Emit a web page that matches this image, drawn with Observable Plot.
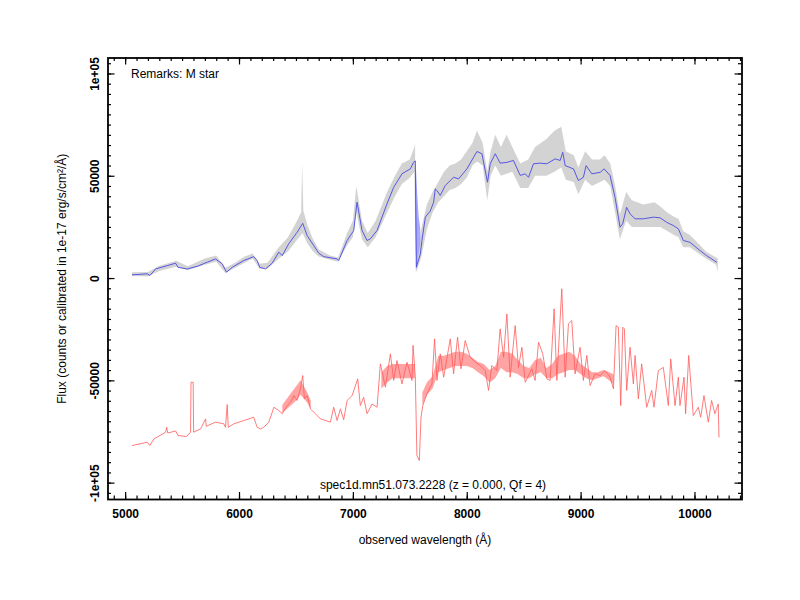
<!DOCTYPE html>
<html>
<head>
<meta charset="utf-8">
<script src="https://cdn.jsdelivr.net/npm/d3@7"></script>
<script src="https://cdn.jsdelivr.net/npm/@observablehq/plot@0.6"></script>
<style>
  html, body { margin: 0; padding: 0; background: #fff; }
  #chart svg { display: block; }
</style>
</head>
<body>
<div id="chart"></div>
<script>
// ---- data ----
const blueLam = [5059,5190,5213,5263,5365,5439,5459,5541,5629,5717,5789,5848,5886,5936,6038,6125,6155,6178,6228,6287,6345,6375,6432,6506,6555,6594,6652,6696,6740,6857,6871,6945,7003,7032,7076,7120,7149,7208,7295,7354,7427,7500,7529,7544,7553,7588,7602,7632,7675,7705,7719,7734,7763,7807,7822,7880,7924,7997,8085,8129,8178,8202,8246,8289,8348,8406,8465,8509,8538,8582,8640,8699,8772,8816,8839,8860,8933,8976,9020,9044,9094,9167,9202,9254,9298,9342,9365,9400,9430,9474,9547,9635,9693,9751,9810,9854,9898,9956,10044,10102,10190];
const blueFlux = [1800,2300,1500,4700,6300,7500,5500,4700,6000,8000,9600,7200,3100,5500,8800,10700,8800,5500,4700,7500,12900,11200,17000,22600,27000,21000,16100,12400,10700,9600,8800,18600,23500,37300,23500,18600,19400,23500,36500,44600,51200,53600,56800,57500,5500,12000,18600,30000,33000,37300,43800,43000,40600,45500,46300,49500,48700,53600,62100,61000,47100,56100,61000,56400,56800,57700,50400,51200,49500,56100,56400,56100,58500,57700,61700,55200,53600,47900,49500,55200,51200,51900,53600,50400,39700,25100,26700,34800,31600,29200,29200,30000,29700,27500,25900,24300,18600,17700,13700,11200,8000];

const greyLam = [5060,5200,5300,5450,5550,5700,5800,5880,5950,6050,6120,6180,6250,6350,6430,6500,6545,6555,6565,6600,6650,6700,6800,6870,6950,7000,7030,7080,7130,7200,7300,7370,7430,7500,7540,7546,7553,7600,7650,7700,7750,7800,7850,7900,7950,8000,8050,8090,8140,8180,8210,8250,8300,8350,8400,8470,8540,8600,8650,8700,8770,8830,8870,8940,8980,9040,9100,9170,9210,9260,9300,9345,9400,9450,9550,9650,9700,9760,9820,9860,9900,9960,10050,10100,10190,10205];
const greyLo = [1000,800,3500,5500,3800,6500,8000,2500,4500,7500,9500,4500,4500,9500,13000,18000,21000,22000,21000,17000,13000,10500,9000,8000,16000,20000,32000,19000,15000,20000,32000,40000,46000,49000,52000,30000,2500,10000,24000,32000,37000,40000,43000,44000,46000,49000,55000,57000,55000,38000,50000,55000,50000,51000,52000,44000,44000,50000,50000,50000,52000,54000,48000,47000,41000,48000,45000,47000,48000,45000,33000,19000,28000,25000,25000,25000,25000,23000,21000,20000,15000,15000,11500,9500,6500,3000];
const greyHi = [2800,3000,6000,8500,5800,9500,11000,5000,7000,10500,12000,7000,7500,15000,20000,27000,32000,56000,33000,26000,19000,14000,11000,10000,22000,28000,45000,28000,22000,28000,42000,50000,56000,58000,64000,66000,8000,24000,36000,42000,47000,52000,55000,56000,58000,62000,66000,72000,66000,52000,62000,70000,64000,70000,64000,56000,58000,64000,66000,68000,72000,74000,62000,60000,54000,62000,58000,58000,60000,56000,46000,31000,42000,38000,36000,37000,35000,32000,30000,29000,23000,21000,16000,13000,10000,9500];

const paleLam = [7548,7556,7566,7578,7592];
const paleLo  = [30000,4000,8000,12000,17000];
const paleHi  = [56000,52000,40000,30000,24000];

const redLam = [5059,5190,5213,5248,5351,5360,5370,5439,5459,5535,5570,5574,5593,5597,5658,5702,5708,5789,5862,5877,5892,5901,5950,6038,6125,6155,6184,6213,6257,6287,6301,6345,6375,6418,6447,6477,6506,6535,6555,6570,6594,6623,6667,6711,6798,6827,6857,6886,6915,6945,6989,7038,7061,7090,7120,7164,7208,7237,7281,7325,7354,7383,7427,7471,7515,7524,7544,7558,7579,7594,7610,7646,7690,7713,7734,7763,7793,7851,7880,7915,7945,7982,8026,8070,8114,8158,8187,8216,8260,8289,8319,8348,8377,8421,8450,8480,8509,8567,8596,8626,8663,8699,8728,8763,8787,8830,8860,8889,8918,8947,8991,9020,9050,9079,9123,9167,9211,9254,9284,9307,9327,9348,9366,9380,9400,9430,9459,9474,9503,9532,9576,9620,9640,9678,9722,9766,9787,9825,9854,9868,9904,9918,9945,9985,10029,10050,10079,10117,10146,10175,10204,10211];
const redFlux = [-81600,-80000,-81600,-78400,-75100,-72700,-75500,-74500,-76700,-77200,-75100,-50700,-50700,-75100,-73500,-68600,-72200,-70200,-71000,-72700,-61600,-72700,-71000,-69400,-67800,-72700,-73500,-72700,-70200,-65400,-62900,-64500,-66100,-62100,-60500,-57200,-59600,-53900,-47400,-58800,-57200,-63700,-66100,-68600,-70200,-62900,-69400,-63700,-69000,-59600,-57200,-49000,-62100,-58000,-66100,-61300,-62900,-41700,-53100,-36800,-49800,-40100,-51500,-40900,-49800,-32700,-48200,-86500,-89000,-67800,-62000,-56400,-51500,-29500,-49800,-36800,-48200,-29500,-46600,-28700,-44100,-30300,-38500,-40900,-42500,-45000,-54700,-42500,-45000,-24600,-38500,-17300,-48200,-23000,-43400,-33600,-50700,-44100,-49800,-31100,-36800,-49000,-49800,-14800,-49800,-5000,-48200,-22100,-20500,-46600,-33600,-49800,-37600,-52300,-46600,-47400,-45000,-48200,-53900,-23000,-23800,-62100,-23800,-24600,-54700,-33600,-51500,-37600,-58800,-41700,-62900,-54700,-62900,-45000,-43400,-62100,-39300,-62100,-48200,-62100,-48200,-66100,-37600,-67000,-62900,-67800,-57200,-70200,-59600,-66100,-61300,-77500];

// dense noisy core of the red spectrum (null = no dense core there)
const redBandLam = [6380,6420,6460,6500,6540,6570,6600,6630,6640,7250,7300,7350,7400,7450,7500,7545,7550,7610,7650,7700,7750,7800,7850,7900,7950,8000,8050,8100,8150,8200,8250,8300,8350,8400,8450,8500,8550,8600,8650,8700,8750,8800,8850,8900,8950,9000,9050,9100,9150,9200,9250,9290];
const redBandLo = [-66000,-64000,-62000,-60000,-57000,-59000,-61000,-64000,null,-54000,-51000,-49000,-49000,-49000,-49000,-49000,null,-62000,-57000,-54000,-46000,-45000,-44000,-43000,-43000,-43000,-44000,-46000,-48000,-51000,-49000,-44000,-46000,-46000,-47000,-49000,-49000,-47000,-46000,-49000,-49000,-47000,-46000,-45000,-45000,-47000,-49000,-50000,-49000,-48000,-50000,-52000];
const redBandHi = [-62000,-59000,-56000,-53000,-50000,-53000,-56000,-60000,null,-46000,-43000,-42000,-42000,-42000,-42000,-42000,null,-56000,-51000,-48000,-38000,-38000,-37000,-36000,-36000,-37000,-39000,-41000,-42000,-45000,-43000,-36000,-36000,-37000,-40000,-43000,-44000,-40000,-39000,-44000,-42000,-38000,-37000,-36000,-38000,-42000,-44000,-46000,-46000,-45000,-46000,-47000];

const xMajor = [5000, 6000, 7000, 8000, 9000, 10000];
const yMajor = [-100000, -50000, 0, 50000, 100000];
const yLabels = ["-1e+05", "-50000", "0", "50000", "1e+05"];
const xTitle = "observed wavelength (Å)";
const yTitle = "Flux (counts or calibrated in 1e-17 erg/s/cm²/Å)";
const remark = "Remarks: M star";
const caption = "spec1d.mn51.073.2228 (z = 0.000, Qf = 4)";

// ---- build tables ----
const blue = blueLam.map((x, i) => ({x, y: blueFlux[i]}));
const grey = greyLam.map((x, i) => ({x, lo: greyLo[i], hi: greyHi[i]}));
const pale = paleLam.map((x, i) => ({x, lo: paleLo[i], hi: paleHi[i]}));
const red = redLam.map((x, i) => ({x, y: redFlux[i]}));
const redBand = redBandLam.map((x, i) => ({x, lo: redBandLo[i], hi: redBandHi[i]}));
const xMinor = d3.range(4900, 10401, 100);
const yMinor = d3.range(-105000, 105001, 5000);
const yLab = yMajor.map((v, i) => ({v, t: yLabels[i]}));

const mL = 107.5, mR = 58.5, mT = 57.5, mB = 101;
const fw = 800 - mL - mR, fh = 600 - mT - mB;
const tk = {stroke: "black", strokeWidth: 1.2};
const txt = {fontSize: 12, fill: "black", textAnchor: "middle", lineAnchor: "middle"};

const chart = Plot.plot({
  width: 800, height: 600,
  marginLeft: mL, marginRight: mR, marginTop: mT, marginBottom: mB,
  style: {fontFamily: "'Liberation Sans', Arial, Helvetica, sans-serif", fontSize: "12px", background: "white"},
  x: {domain: [4845, 10413], axis: null},
  y: {domain: [-108000, 107800], axis: null},
  marks: [
    Plot.areaY(grey, {x: "x", y1: "lo", y2: "hi", fill: "#cbcbcb", fillOpacity: 0.85}),
    Plot.areaY(pale, {x: "x", y1: "lo", y2: "hi", fill: "#a8a8ff"}),
    Plot.line(blue, {x: "x", y: "y", stroke: "#4848e4", strokeWidth: 0.9}),
    Plot.areaY(redBand, {x: "x", y1: "lo", y2: "hi", fill: "#ff6666", fillOpacity: 0.6}),
    Plot.line(red, {x: "x", y: "y", stroke: "#ff5a5a", strokeWidth: 0.8}),
    // ticks (inward)
    Plot.ruleX(xMinor, {x: d => d, insetTop: fh - 3.5, ...tk}),
    Plot.ruleX(xMinor, {x: d => d, insetBottom: fh - 3.5, ...tk}),
    Plot.ruleX(xMajor, {x: d => d, insetTop: fh - 7, ...tk}),
    Plot.ruleX(xMajor, {x: d => d, insetBottom: fh - 7, ...tk}),
    Plot.ruleY(yMinor, {y: d => d, insetRight: fw - 3.5, ...tk}),
    Plot.ruleY(yMinor, {y: d => d, insetLeft: fw - 3.5, ...tk}),
    Plot.ruleY(yMajor, {y: d => d, insetRight: fw - 7, ...tk}),
    Plot.ruleY(yMajor, {y: d => d, insetLeft: fw - 7, ...tk}),
    Plot.frame({stroke: "black", strokeWidth: 1.8}),
    // tick labels
    Plot.text(xMajor, {x: d => d, text: d => String(d), frameAnchor: "bottom", dy: 15, fontWeight: "bold", ...txt}),
    Plot.text(yLab, {y: "v", text: "t", frameAnchor: "left", dx: -13, rotate: -90, fontWeight: "bold", ...txt}),
    // titles and notes
    Plot.text([xTitle], {frameAnchor: "bottom", dy: 41, text: d => d, ...txt}),
    Plot.text([yTitle], {frameAnchor: "left", dx: -46, rotate: -90, text: d => d, ...txt}),
    Plot.text([remark], {frameAnchor: "top-left", dx: 23, dy: 16, text: d => d, ...txt, textAnchor: "start"}),
    Plot.text([caption], {frameAnchor: "bottom", dx: 8, dy: -14, text: d => d, ...txt})
  ]
});
document.getElementById("chart").appendChild(chart);
</script>
</body>
</html>
